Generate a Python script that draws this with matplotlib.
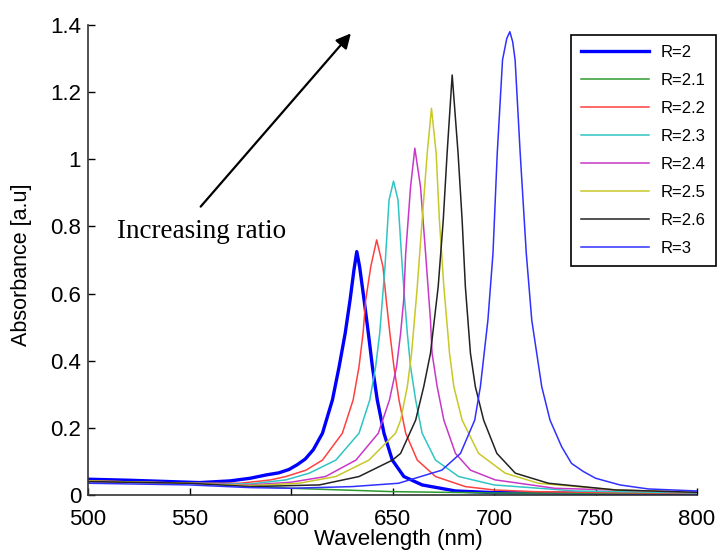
import matplotlib
matplotlib.use("Agg")
import matplotlib.pyplot as plt

# ---- data ----
labels = ["R=2", "R=2.1", "R=2.2", "R=2.3", "R=2.4", "R=2.5", "R=2.6", "R=3"]

wl_r20 = [500, 520, 540, 555, 570, 580, 588, 594, 599, 603, 607, 611, 615.5, 620.4, 623.7, 626.7, 629.1, 631, 632.4,
          633.8, 636, 638.1, 640.1, 642.5, 645.8, 649.9, 655.6, 664.6, 681, 700, 750, 800]
ab_r20 = [0.047, 0.044, 0.040, 0.037, 0.042, 0.050, 0.060, 0.066, 0.076, 0.090, 0.107, 0.135, 0.184, 0.283, 0.382, 0.482, 0.581, 0.670, 0.725,
          0.680, 0.581, 0.482, 0.382, 0.283, 0.184, 0.104, 0.055, 0.030, 0.012, 0.007, 0.005, 0.005]

wl_r21 = [500, 550, 600, 650, 700, 800]
ab_r21 = [0.040, 0.035, 0.020, 0.010, 0.006, 0.005]

wl_r22 = [500, 550, 575, 590, 597.5, 607.4, 615.5, 625.3, 630.6, 633.5, 635.5, 636.8, 639.3, 642.2,
          645.3, 646.9, 648.7, 650.7, 653.2, 656.5, 662.2, 671.2, 685.9, 700, 720, 760, 800]
ab_r22 = [0.042, 0.035, 0.035, 0.045, 0.055, 0.074, 0.104, 0.184, 0.283, 0.382, 0.482, 0.581, 0.680, 0.760,
          0.680, 0.581, 0.482, 0.382, 0.283, 0.184, 0.104, 0.055, 0.025, 0.015, 0.010, 0.007, 0.005]

wl_r23 = [500, 550, 580, 597.5, 609, 622.1, 633.5, 638.8, 641.7, 643.7, 645, 646.3, 648.3, 650.5,
          652.7, 654.8, 656, 657.3, 658.9, 661.4, 664.6, 671.2, 682.6, 700, 740, 800]
ab_r23 = [0.040, 0.035, 0.033, 0.045, 0.065, 0.104, 0.184, 0.283, 0.382, 0.482, 0.581, 0.680, 0.879, 0.935,
          0.879, 0.680, 0.581, 0.482, 0.382, 0.283, 0.184, 0.104, 0.055, 0.030, 0.012, 0.006]

wl_r24 = [500, 550, 580, 600, 617, 632, 643, 648.5, 652, 654, 655.5, 656.5, 658.9, 661,
          663.8, 666.3, 668.7, 669.5, 672, 675.3, 681, 688.4, 700.6, 730, 800]
ab_r24 = [0.040, 0.035, 0.030, 0.038, 0.055, 0.104, 0.184, 0.283, 0.382, 0.482, 0.580, 0.720, 0.918, 1.033,
          0.918, 0.720, 0.521, 0.422, 0.323, 0.223, 0.124, 0.074, 0.045, 0.020, 0.008]

wl_r25 = [500, 550, 580, 604, 622.1, 638.4, 651.5, 654, 657.3, 659.4, 662.2, 664.6, 667.1, 669.2,
          671.5, 673.1, 675.3, 678.1, 680.2, 684.3, 692.4, 705.5, 721.9, 760, 800]
ab_r25 = [0.042, 0.035, 0.028, 0.035, 0.055, 0.104, 0.184, 0.223, 0.323, 0.422, 0.620, 0.819, 1.018, 1.152,
          1.018, 0.819, 0.620, 0.422, 0.323, 0.223, 0.124, 0.065, 0.035, 0.015, 0.008]

wl_r26 = [500, 550, 580, 614, 633.5, 650, 654, 661.4, 665.4, 668.7, 672.5, 675, 676.9, 679.4,
          682.3, 684.3, 685.9, 688.4, 690.8, 694.9, 701.4, 710.5, 726.8, 760, 800]
ab_r26 = [0.040, 0.035, 0.025, 0.030, 0.055, 0.104, 0.124, 0.223, 0.323, 0.422, 0.620, 0.819, 1.018, 1.251,
          1.018, 0.819, 0.620, 0.422, 0.323, 0.223, 0.124, 0.065, 0.035, 0.015, 0.008]

wl_r30 = [500, 550, 580, 600, 630, 653, 674.3, 683.5, 690.5, 693.3, 697, 699.5, 701.6, 704.2, 706.3, 707.8,
          709.2, 710.4, 712.9, 715.9, 718.6, 723.5, 727.6, 733.3, 738.2, 744, 750, 762, 776, 800]
ab_r30 = [0.035, 0.030, 0.022, 0.020, 0.025, 0.035, 0.074, 0.124, 0.223, 0.323, 0.521, 0.720, 1.018, 1.296, 1.360, 1.380,
          1.350, 1.296, 1.018, 0.720, 0.521, 0.323, 0.223, 0.144, 0.094, 0.070, 0.050, 0.030, 0.018, 0.012]

xticks = [500, 550, 600, 650, 700, 750, 800]
yticks = [0, 0.2, 0.4, 0.6, 0.8, 1.0, 1.2, 1.4]
ytick_labels = ["0", "0.2", "0.4", "0.6", "0.8", "1", "1.2", "1.4"]

# ---- style ----
colors = ["#0000ff", "#2e9a2e", "#ff4040", "#30c4c4", "#c838c8", "#c8c828", "#222222", "#3030ff"]
widths = [2.4, 1.1, 1.1, 1.1, 1.1, 1.1, 1.1, 1.1]

plt.rcParams["font.family"] = ["Liberation Sans", "DejaVu Sans"]

fig = plt.figure(figsize=(7.18, 5.53), dpi=100)
ax = fig.add_axes([88 / 718, 1 - 495 / 553, (697 - 88) / 718, (495 - 25) / 553])

series = [(wl_r20, ab_r20), (wl_r21, ab_r21), (wl_r22, ab_r22), (wl_r23, ab_r23),
          (wl_r24, ab_r24), (wl_r25, ab_r25), (wl_r26, ab_r26), (wl_r30, ab_r30)]
for (wl, ab), lab, c, lw in zip(series, labels, colors, widths):
    ax.plot(wl, ab, color=c, lw=lw, label=lab)

ax.set_xlim(500, 800)
ax.set_ylim(0, 1.4)
ax.set_xticks(xticks)
ax.set_yticks(yticks)
ax.set_yticklabels(ytick_labels)
ax.tick_params(direction="in", length=5, width=1, labelsize=16)
ax.tick_params(axis="x", pad=10)
ax.tick_params(axis="y", pad=5)
for s in ["top", "right"]:
    ax.spines[s].set_visible(False)
for s in ["left", "bottom"]:
    ax.spines[s].set_linewidth(1.2)
    ax.spines[s].set_color("#333333")

ax.set_xlabel("Wavelength (nm)", fontsize=16)
ax.set_ylabel("Absorbance [a.u]", fontsize=15.5)
ax.xaxis.set_label_coords((398 - 88) / 609, -(540 - 495) / 470)
ax.yaxis.set_label_coords((22 - 88) / 609, (495 - 265) / 470)
ax.xaxis.label.set_va("center")
ax.yaxis.label.set_va("center")

ax.annotate("", xy=(629.5, 1.375), xytext=(555.5, 0.859),
            arrowprops=dict(arrowstyle="-|>", color="black", lw=1.6, mutation_scale=22,
                            shrinkA=0, shrinkB=0))
ax.text(514.2, 0.766, "Increasing ratio", fontsize=19.5, family=["Liberation Serif", "DejaVu Serif"],
        ha="left", va="baseline")

leg = ax.legend(loc="upper right", bbox_to_anchor=(716 / 718, 1 - 35 / 553),
                bbox_transform=fig.transFigure, fontsize=12, frameon=True, fancybox=False,
                edgecolor="black", framealpha=1, borderaxespad=0, handlelength=4.1,
                handletextpad=0.7, labelspacing=0.78, borderpad=0.6)
leg.get_frame().set_linewidth(1.2)

fig.savefig("out.png", dpi=100)
